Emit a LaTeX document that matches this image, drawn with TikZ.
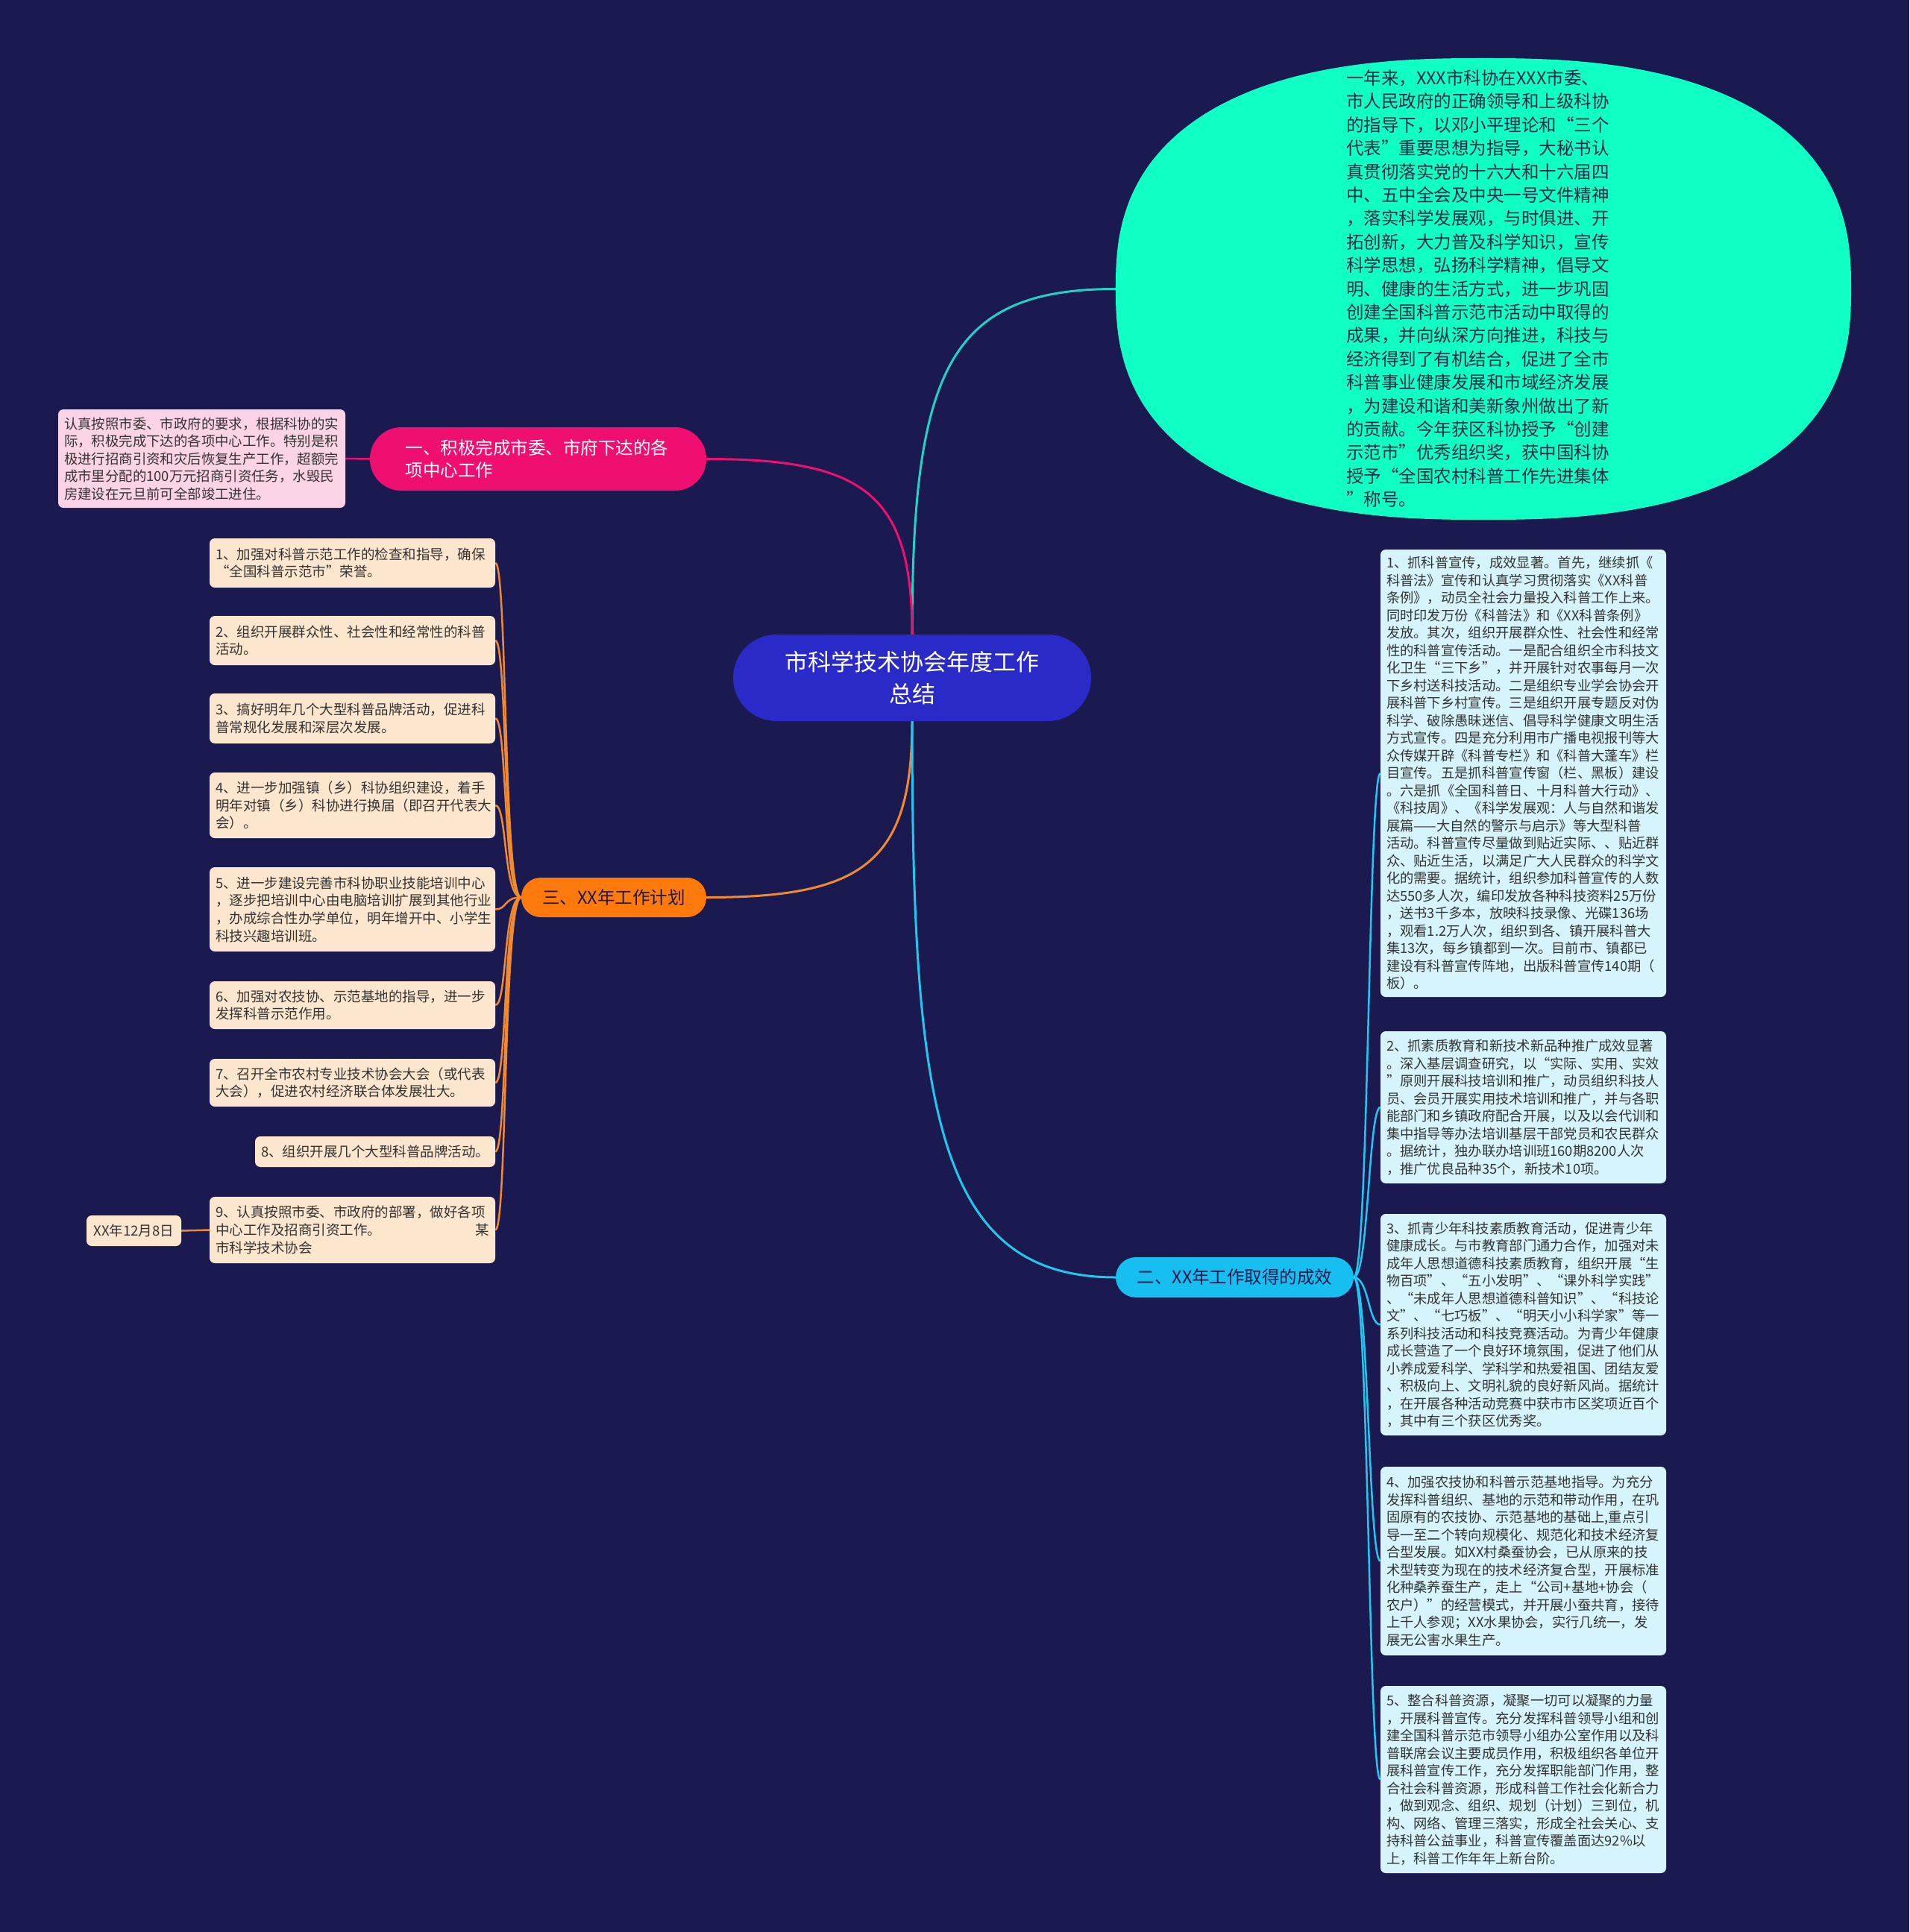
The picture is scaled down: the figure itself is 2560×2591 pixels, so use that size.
\documentclass[tikz,border=0pt]{standalone}
\usepackage{fontspec}
\setmainfont{Noto Sans CJK SC}
\usetikzlibrary{shapes.geometric,backgrounds}
\definecolor{bgc}{HTML}{1B1A50}
\definecolor{centerc}{HTML}{2A2AC8}
\definecolor{pinkc}{HTML}{EF0F70}
\definecolor{pinkleaf}{HTML}{FBD3E7}
\definecolor{orangec}{HTML}{FF7A0C}
\definecolor{orleaf}{HTML}{FDE6CE}
\definecolor{orline}{HTML}{F08A30}
\definecolor{bluec}{HTML}{17BFF0}
\definecolor{blueleaf}{HTML}{D5F4FB}
\definecolor{blueline}{HTML}{20C8F0}
\definecolor{ellc}{HTML}{10FFC4}
\definecolor{tealline}{HTML}{22D2C4}
\definecolor{leaftext}{HTML}{333333}
\definecolor{navytext}{HTML}{1E2D4A}
\tikzset{
  leafbox/.style={rectangle, rounded corners=7pt, inner xsep=8pt, inner ysep=3pt, align=left, text=leaftext},
  leafL/.style={leafbox, fill=orleaf, text width=367pt, minimum height=#1, font=\fontsize{18.5}{23.7}\selectfont},
  leafR/.style={leafbox, fill=blueleaf, text width=367pt, minimum height=#1, font=\fontsize{18.3}{23.5}\selectfont},
  pillbox/.style={rectangle, rounded corners=#1, inner ysep=4pt},
  mainline/.style={line width=3pt},
  subline/.style={line width=2.5pt}
}
\begin{document}
\begin{tikzpicture}[x=1pt,y=-1pt]
\useasboundingbox (0,0) rectangle (2560,2591);

% central topic
\node[pillbox=58pt, fill=centerc, minimum width=480pt, minimum height=116pt, text width=420pt, align=center, text=white, font=\fontsize{31}{43}\selectfont] (c) at (1223,909) {市科学技术协会年度工作\\总结};

% ellipse summary (super-ellipse outline)
\node[ellipse, minimum width=986pt, minimum height=619pt, inner sep=0pt] (e) at (1989,387.5) {};
\fill[ellc] plot[domain=0.5:360.5, samples=145, smooth] ({1989+493*sign(cos(\x))*pow(abs(cos(\x)),0.8)}, {387.5+309.5*sign(sin(\x))*pow(abs(sin(\x)),0.8)}) -- cycle;
\node[align=left, text width=356pt, inner sep=0pt, text=navytext, font=\fontsize{23.5}{31.4}\selectfont] (etxt) at (1983,387) {一年来，XXX市科协在XXX市委、\\市人民政府的正确领导和上级科协\\的指导下，以邓小平理论和“三个\\代表”重要思想为指导，大秘书认\\真贯彻落实党的十六大和十六届四\\中、五中全会及中央一号文件精神\\，落实科学发展观，与时俱进、开\\拓创新，大力普及科学知识，宣传\\科学思想，弘扬科学精神，倡导文\\明、健康的生活方式，进一步巩固\\创建全国科普示范市活动中取得的\\成果，并向纵深方向推进，科技与\\经济得到了有机结合，促进了全市\\科普事业健康发展和市域经济发展\\，为建设和谐和美新象州做出了新\\的贡献。今年获区科协授予“创建\\示范市”优秀组织奖，获中国科协\\授予“全国农村科普工作先进集体\\”称号。};

% branch 1 (pink)
\node[pillbox=42pt, fill=pinkc, minimum width=451pt, minimum height=85pt, text width=356pt, inner xsep=47.5pt, align=left, text=white, font=\fontsize{23.5}{30}\selectfont] (p) at (721.5,615.5) {一、积极完成市委、市府下达的各\\项中心工作};
\node[leafbox, fill=pinkleaf, text width=369pt, minimum height=132pt, font=\fontsize{18.4}{23.5}\selectfont] (pl) at (270.5,615) {认真按照市委、市政府的要求，根据科协的实\\际，积极完成下达的各项中心工作。特别是积\\极进行招商引资和灾后恢复生产工作，超额完\\成市里分配的100万元招商引资任务，水毁民\\房建设在元旦前可全部竣工进住。};

% branch 3 (orange)
\node[pillbox=26pt, fill=orangec, minimum width=248pt, minimum height=53pt, align=center, text=bgc, font=\fontsize{23.5}{28}\selectfont] (o) at (823,1203.5) {三、XX年工作计划};
\node[leafL=66pt] (l1) at (472.5,755) {1、加强对科普示范工作的检查和指导，确保\\“全国科普示范市”荣誉。};
\node[leafL=66pt] (l2) at (472.5,859) {2、组织开展群众性、社会性和经常性的科普\\活动。};
\node[leafL=67pt] (l3) at (472.5,963.5) {3、搞好明年几个大型科普品牌活动，促进科\\普常规化发展和深层次发展。};
\node[leafL=88pt] (l4) at (472.5,1080) {4、进一步加强镇（乡）科协组织建设，着手\\明年对镇（乡）科协进行换届（即召开代表大\\会）。};
\node[leafL=113pt] (l5) at (472.5,1219.5) {5、进一步建设完善市科协职业技能培训中心\\，逐步把培训中心由电脑培训扩展到其他行业\\，办成综合性办学单位，明年增开中、小学生\\科技兴趣培训班。};
\node[leafL=64pt] (l6) at (472.5,1348) {6、加强对农技协、示范基地的指导，进一步\\发挥科普示范作用。};
\node[leafL=64pt] (l7) at (472.5,1452) {7、召开全市农村专业技术协会大会（或代表\\大会），促进农村经济联合体发展壮大。};
\node[leafbox, fill=orleaf, text width=306pt, minimum height=41pt, font=\fontsize{18.5}{23.7}\selectfont] (l8) at (503,1544.5) {8、组织开展几个大型科普品牌活动。};
\node[leafL=89pt] (l9) at (472.5,1649.5) {9、认真按照市委、市政府的部署，做好各项\\中心工作及招商引资工作。\hfill 某\\市科学技术协会};
\node[leafbox, fill=orleaf, minimum width=127pt, minimum height=41pt, inner xsep=4pt, align=center, font=\fontsize{18.5}{23.7}\selectfont] (d) at (179.5,1650.5) {XX年12月8日};

% branch 2 (blue)
\node[pillbox=27pt, fill=bluec, minimum width=319pt, minimum height=54pt, align=center, text=bgc, font=\fontsize{23.5}{28}\selectfont] (b) at (1655.5,1713) {二、XX年工作取得的成效};
\node[leafR=600pt] (r1) at (2042.5,1037) {1、抓科普宣传，成效显著。首先，继续抓《\\科普法》宣传和认真学习贯彻落实《XX科普\\条例》，动员全社会力量投入科普工作上来。\\同时印发万份《科普法》和《XX科普条例》\\发放。其次，组织开展群众性、社会性和经常\\性的科普宣传活动。一是配合组织全市科技文\\化卫生“三下乡”，并开展针对农事每月一次\\下乡村送科技活动。二是组织专业学会协会开\\展科普下乡村宣传。三是组织开展专题反对伪\\科学、破除愚昧迷信、倡导科学健康文明生活\\方式宣传。四是充分利用市广播电视报刊等大\\众传媒开辟《科普专栏》和《科普大蓬车》栏\\目宣传。五是抓科普宣传窗（栏、黑板）建设\\。六是抓《全国科普日、十月科普大行动》、\\《科技周》、《科学发展观：人与自然和谐发\\展篇——大自然的警示与启示》等大型科普\\活动。科普宣传尽量做到贴近实际、、贴近群\\众、贴近生活，以满足广大人民群众的科学文\\化的需要。据统计，组织参加科普宣传的人数\\达550多人次，编印发放各种科技资料25万份\\，送书3千多本，放映科技录像、光碟136场\\，观看1.2万人次，组织到各、镇开展科普大\\集13次，每乡镇都到一次。目前市、镇都已\\建设有科普宣传阵地，出版科普宣传140期（\\板）。};
\node[leafR=204pt] (r2) at (2042.5,1485) {2、抓素质教育和新技术新品种推广成效显著\\。深入基层调查研究，以“实际、实用、实效\\”原则开展科技培训和推广，动员组织科技人\\员、会员开展实用技术培训和推广，并与各职\\能部门和乡镇政府配合开展，以及以会代训和\\集中指导等办法培训基层干部党员和农民群众\\。据统计，独办联办培训班160期8200人次\\，推广优良品种35个，新技术10项。};
\node[leafR=297pt] (r3) at (2042.5,1776.5) {3、抓青少年科技素质教育活动，促进青少年\\健康成长。与市教育部门通力合作，加强对未\\成年人思想道德科技素质教育，组织开展“生\\物百项”、“五小发明”、“课外科学实践”\\、“未成年人思想道德科普知识”、“科技论\\文”、“七巧板”、“明天小小科学家”等一\\系列科技活动和科技竞赛活动。为青少年健康\\成长营造了一个良好环境氛围，促进了他们从\\小养成爱科学、学科学和热爱祖国、团结友爱\\、积极向上、文明礼貌的良好新风尚。据统计\\，在开展各种活动竞赛中获市市区奖项近百个\\，其中有三个获区优秀奖。};
\node[leafR=253pt] (r4) at (2042.5,2093.5) {4、加强农技协和科普示范基地指导。为充分\\发挥科普组织、基地的示范和带动作用，在巩\\固原有的农技协、示范基地的基础上,重点引\\导一至二个转向规模化、规范化和技术经济复\\合型发展。如XX村桑蚕协会，已从原来的技\\术型转变为现在的技术经济复合型，开展标准\\化种桑养蚕生产，走上“公司+基地+协会（\\农户）”的经营模式，并开展小蚕共育，接待\\上千人参观；XX水果协会，实行几统一，发\\展无公害水果生产。};
\node[leafR=251pt] (r5) at (2042.5,2386.5) {5、整合科普资源，凝聚一切可以凝聚的力量\\，开展科普宣传。充分发挥科普领导小组和创\\建全国科普示范市领导小组办公室作用以及科\\普联席会议主要成员作用，积极组织各单位开\\展科普宣传工作，充分发挥职能部门作用，整\\合社会科普资源，形成科普工作社会化新合力\\，做到观念、组织、规划（计划）三到位，机\\构、网络、管理三落实，形成全社会关心、支\\持科普公益事业，科普宣传覆盖面达92\%以\\上，科普工作年年上新台阶。};

\begin{pgfonlayer}{background}
\fill[bgc] (0,0) rectangle (2560,2591);
% main connectors
\draw[mainline, tealline] (c.north) .. controls +(0,-355) and +(-223,0) .. (e.west);
\draw[mainline, pinkc] (c.north) .. controls +(0,-190) and +(210,0) .. (p.east);
\draw[mainline, orline] (c.south) .. controls +(0,190) and +(210,0) .. (o.east);
\draw[mainline, blueline] (c.south) .. controls +(0,520) and +(-240,0) .. (b.west);
% pink leaf
\draw[subline, pinkc] (p.west) -- (pl.east);
% orange leaves
\foreach \n in {l1,l2,l3,l4,l5,l6,l7,l8,l9}
  \draw[subline, orline] (o.west) .. controls +(-24,0) and +(16,0) .. (\n.east);
\draw[subline, orline] (l9.west) -- (d.east);
% blue leaves
\foreach \n in {r1,r2,r3,r4,r5}
  \draw[subline, blueline] (b.east) .. controls +(20,0) and +(-16,0) .. (\n.west);
\end{pgfonlayer}
\end{tikzpicture}
\end{document}
